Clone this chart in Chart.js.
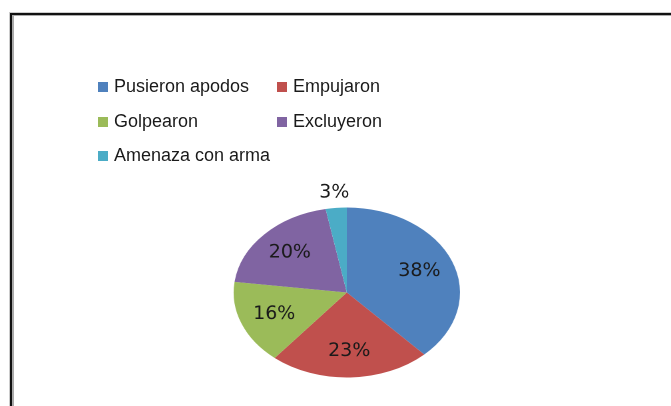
<!DOCTYPE html>
<html>
<head>
<meta charset="utf-8">
<script src="https://cdn.jsdelivr.net/npm/chart.js@4"></script>
<style>
  html, body { margin: 0; padding: 0; background: #fff; }
  body { width: 671px; height: 406px; position: relative; overflow: hidden; }
  #frame {
    position: absolute; left: 10px; top: 13px; right: -10px; bottom: -10px;
    border-left: 2px solid #111; border-top: 2px solid #111;
    box-shadow: inset 2px 1px 0 #aaa, -1px -1px 0 #ccc;
  }
  #wrap {
    position: absolute; left: 0; top: 0; width: 504px; height: 406px;
    transform: scaleX(1.3313); transform-origin: 0 0;
  }
  #legend { position: absolute; left: 0; top: 0; width: 671px; height: 406px; }
  .item { position: absolute; font-family: "Liberation Sans", Arial, sans-serif; font-size: 18px; color: #1a1a1a; white-space: nowrap; line-height: 20px; }
  .box { display: inline-block; width: 10px; height: 10px; margin-right: 6px; vertical-align: 0px; }
</style>
</head>
<body>
<div id="frame"></div>
<div id="wrap"><canvas id="myChart"></canvas></div>
<div id="legend"></div>
<script>
const labels = ["Pusieron apodos", "Empujaron", "Golpearon", "Excluyeron", "Amenaza con arma"]
const values = [38, 23, 16, 20, 3]
const colors = ["#4F81BD", "#C0504D", "#9BBB59", "#8064A2", "#4BACC6"]

const stretch = 1.3313

// percentage labels drawn inside the slices (small ones outside)
const pctLabels = {
  id: "pctLabels",
  afterDatasetsDraw(chart) {
    const ctx = chart.ctx
    const meta = chart.getDatasetMeta(0)
    const total = values.reduce((a, b) => a + b, 0)
    meta.data.forEach((arc, i) => {
      const p = arc.getProps(["x", "y", "startAngle", "endAngle", "outerRadius"], true)
      const mid = (p.startAngle + p.endAngle) / 2
      const pct = Math.round(values[i] / total * 100)
      const r = pct < 5 ? p.outerRadius * 1.18 : p.outerRadius * 0.69
      ctx.save()
      ctx.translate(p.x + Math.cos(mid) * r, p.y + Math.sin(mid) * r)
      ctx.scale(1 / stretch, 1)   // undo the page stretch for the text
      ctx.font = "19px 'DejaVu Sans', sans-serif"
      ctx.fillStyle = "#1a1a1a"
      ctx.textAlign = "center"
      ctx.textBaseline = "middle"
      ctx.fillText(pct + "%", 0, 0)
      ctx.restore()
    })
  }
}

const chart = new Chart(document.getElementById("myChart"), {
  type: "pie",
  data: {
    labels: labels,
    datasets: [{
      data: values,
      backgroundColor: colors,
      borderWidth: 0
    }]
  },
  options: {
    responsive: true,
    maintainAspectRatio: false,
    animation: false,
    devicePixelRatio: 2,
    layout: { padding: { left: 175.5, right: 158.5, top: 207.5, bottom: 28.5 } },
    plugins: {
      legend: { display: false },
      tooltip: { enabled: false }
    }
  },
  plugins: [pctLabels]
})

// legend in two columns
const legend = document.getElementById("legend")
labels.forEach((lab, i) => {
  const col = i % 2, row = Math.floor(i / 2)
  const el = document.createElement("div")
  el.className = "item"
  el.style.left = (98 + col * 179) + "px"
  el.style.top = (76 + row * 34.7) + "px"
  el.innerHTML = '<span class="box" style="background:' + colors[i] + '"></span>' + lab
  legend.appendChild(el)
})
</script>
</body>
</html>
